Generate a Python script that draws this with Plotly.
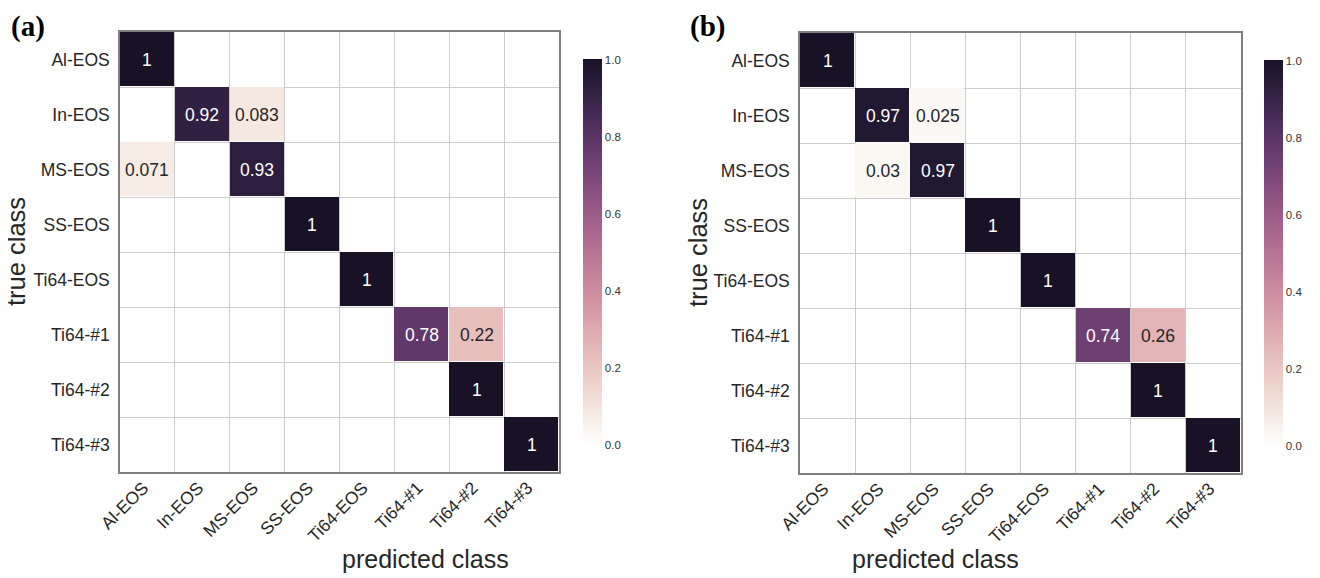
import numpy as np
import plotly.graph_objects as go

classes = ["Al-EOS", "In-EOS", "MS-EOS", "SS-EOS", "Ti64-EOS", "Ti64-#1", "Ti64-#2", "Ti64-#3"]

cm_a = [
    [1, 0, 0, 0, 0, 0, 0, 0],
    [0, 0.92, 0.083, 0, 0, 0, 0, 0],
    [0.071, 0, 0.93, 0, 0, 0, 0, 0],
    [0, 0, 0, 1, 0, 0, 0, 0],
    [0, 0, 0, 0, 1, 0, 0, 0],
    [0, 0, 0, 0, 0, 0.78, 0.22, 0],
    [0, 0, 0, 0, 0, 0, 1, 0],
    [0, 0, 0, 0, 0, 0, 0, 1],
]
cm_b = [
    [1, 0, 0, 0, 0, 0, 0, 0],
    [0, 0.97, 0.025, 0, 0, 0, 0, 0],
    [0, 0.03, 0.97, 0, 0, 0, 0, 0],
    [0, 0, 0, 1, 0, 0, 0, 0],
    [0, 0, 0, 0, 1, 0, 0, 0],
    [0, 0, 0, 0, 0, 0.74, 0.26, 0],
    [0, 0, 0, 0, 0, 0, 1, 0],
    [0, 0, 0, 0, 0, 0, 0, 1],
]
cbar_ticks = [0.0, 0.2, 0.4, 0.6, 0.8, 1.0]


def cubehelix(x, start=0.0, rot=0.4, gamma=1.0, hue=0.8):
    xg = x ** gamma
    a = hue * xg * (1 - xg) / 2
    phi = 2 * np.pi * (start / 3 + rot * x)
    r = xg + a * (-0.14861 * np.cos(phi) + 1.78277 * np.sin(phi))
    g = xg + a * (-0.29227 * np.cos(phi) - 0.90649 * np.sin(phi))
    b = xg + a * (1.97294 * np.cos(phi))
    return [min(max(c, 0), 1) for c in (r, g, b)]


light, dark = 1.0, 0.09
colorscale = []
for v in np.linspace(0, 1, 41):
    r, g, b = cubehelix(light + (dark - light) * v)
    colorscale.append([float(v), f"rgb({int(r*255)},{int(g*255)},{int(b*255)})"])

FONT = "Liberation Sans, Arial, sans-serif"
TXT = "#262626"

# page body has an 8px margin; figure is sized to fit the window
OFF = 8
W, H = 1320 - OFF, 578 - OFF


def px(x):
    return (x - OFF) / W


def py(y):
    return 1 - (y - OFF) / H


fig = go.Figure()

panels = [
    (cm_a, "x", "y", [px(120), px(559)], [py(472), py(32)], 583, "(a)", 9, 16),
    (cm_b, "x2", "y2", [px(800), px(1241)], [py(473), py(33)], 1264, "(b)", 688, 698),
]

for i, (cm, xa, ya, xdom, ydom, cbx, lab, labx, ytx) in enumerate(panels):
    z = [[(v if v != 0 else None) for v in row] for row in cm]
    fig.add_trace(go.Heatmap(
        z=z, x=classes, y=classes, xaxis=xa, yaxis=ya,
        colorscale=colorscale, zmin=0, zmax=1, xgap=1, ygap=1,
        hoverinfo="skip",
        colorbar=dict(
            x=px(cbx), xanchor="left", xref="paper",
            y=(ydom[0] + ydom[1]) / 2, yanchor="middle", len=385 / H, lenmode="fraction",
            thickness=19, outlinewidth=0, tickvals=cbar_ticks,
            ticktext=[f"{t:.1f}" for t in cbar_ticks], ticks="",
            tickfont=dict(family=FONT, size=11.5, color="#333333"), xpad=0, ypad=0,
        ),
    ))
    for r, row in enumerate(cm):
        for c, v in enumerate(row):
            if v == 0:
                continue
            txt = f"{v:.2g}"
            fig.add_annotation(
                x=classes[c], y=classes[r], xref=xa, yref=ya, text=txt, showarrow=False,
                font=dict(family=FONT, size=17.5, color="white" if v > 0.5 else TXT),
            )
    axs = "" if i == 0 else "2"
    fig.layout["xaxis" + axs] = dict(
        domain=xdom, anchor="y" + axs, type="category", categoryorder="array",
        categoryarray=classes, tickson="boundaries", showgrid=True, gridcolor="#cccccc",
        gridwidth=1, showline=True, linecolor="#808080", linewidth=1.5, mirror=True,
        ticks="", tickangle=-45, tickfont=dict(family=FONT, size=17.5, color=TXT),
        ticklabelstandoff=-3, ticklabelshift=-4,
        zeroline=False, fixedrange=True, automargin=False,
    )
    fig.layout["yaxis" + axs] = dict(
        domain=ydom, anchor="x" + axs, type="category", categoryorder="array",
        categoryarray=classes, autorange="reversed", tickson="boundaries", showgrid=True,
        gridcolor="#cccccc", gridwidth=1, showline=True, linecolor="#808080", linewidth=1.5,
        mirror=True, ticks="", tickfont=dict(family=FONT, size=17.5, color=TXT),
        ticklabelstandoff=5, zeroline=False, fixedrange=True, automargin=False,
    )
    # axis titles
    fig.add_annotation(
        x=(xdom[0] + xdom[1]) / 2, y=py(559), xref="paper", yref="paper",
        text="predicted class", showarrow=False,
        font=dict(family=FONT, size=25, color=TXT), yanchor="middle",
    )
    fig.add_annotation(
        x=px(ytx), y=(ydom[0] + ydom[1]) / 2, xref="paper", yref="paper",
        text="true class", textangle=-90, showarrow=False,
        font=dict(family=FONT, size=25.5, color=TXT), xanchor="center",
    )
    fig.add_annotation(
        x=px(labx), y=py(OFF), xref="paper", yref="paper", text=f"<b>{lab}</b>",
        showarrow=False, xanchor="left", yanchor="top",
        font=dict(family="Liberation Serif, Times New Roman, serif", size=29, color="black"),
    )

fig.update_layout(
    width=W, height=H, margin=dict(l=0, r=0, t=0, b=0, autoexpand=False),
    paper_bgcolor="white", plot_bgcolor="white", showlegend=False,
)

fig.write_html("out.html")
